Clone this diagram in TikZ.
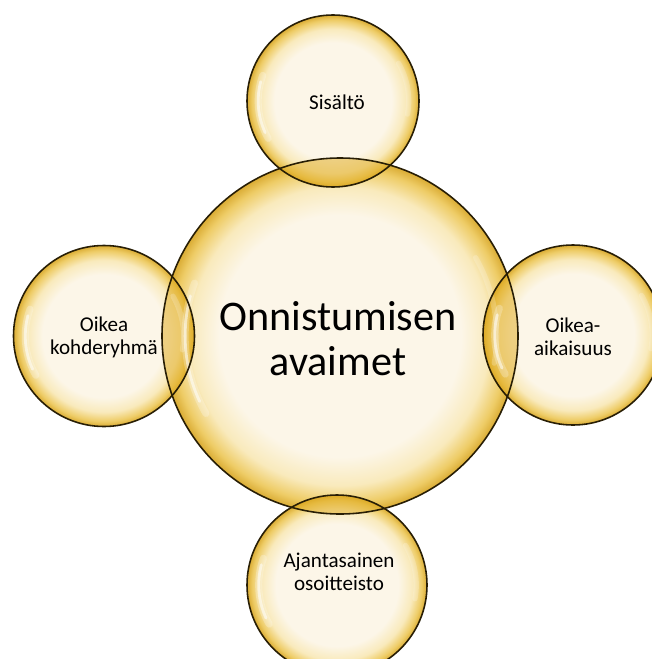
\documentclass[tikz,border=0pt]{standalone}
\usepackage{fontspec}
\setmainfont{Carlito}
\usepackage{tikz}

\definecolor{bubcream}{RGB}{252,246,232}
\definecolor{bubpale}{RGB}{249,234,188}
\definecolor{bubgold}{RGB}{238,204,102}
\definecolor{bubdeep}{RGB}{218,172,52}
\definecolor{bublens}{RGB}{224,170,28}
\definecolor{bubedge}{RGB}{40,30,5}
\pgfdeclareradialshading{bubble}{\pgfpoint{0bp}{0bp}}{color(0bp)=(bubcream); color(17bp)=(bubcream); color(21bp)=(bubpale); color(23.6bp)=(bubgold); color(25bp)=(bubdeep); color(50bp)=(bubdeep)}

\tikzset{
  bubble/.style={circle, inner sep=0pt, shading=bubble},
  rim/.style={draw=bubedge, line width=0.9pt},
  lens/.style={fill=bublens, fill opacity=0.5},
  glint/.style={white, line cap=round},
  small/.style={font=\fontsize{12}{13}\selectfont, align=center, text=black},
}

\begin{document}
\begin{tikzpicture}[x=0.02cm,y=-0.02cm]
  \useasboundingbox (0,0) rectangle (652,659);
  %BUBBLES
  \node[bubble, minimum size=7.12cm] (mid) at (340,336) {};
  \node[bubble, minimum size=3.44cm] (top) at (333,101) {};
  \node[bubble, minimum size=3.62cm] (left) at (104,336) {};
  \node[bubble, minimum size=3.6cm] (right) at (573,335) {};
  \node[bubble, minimum size=3.6cm] (bottom) at (337,585) {};
  %OVERLAPS
  \begin{scope}
    \clip (mid.center) circle[radius=178];
    \fill[lens] (top.center) circle[radius=86];
    \fill[lens] (left.center) circle[radius=90.5];
    \fill[lens] (right.center) circle[radius=90];
    \fill[lens] (bottom.center) circle[radius=90];
  \end{scope}
  %HIGHLIGHTS (soft streaks inside the rim)
  \foreach \b/\r in {mid/178,top/86,left/90.5,right/90,bottom/90}{
    \draw[glint, line width=4pt, opacity=0.25] (\b.center) ++(150:0.87*\r) arc[start angle=150, end angle=200, radius=0.87*\r];
    \draw[glint, line width=1.6pt, opacity=0.55] (\b.center) ++(155:0.87*\r) arc[start angle=155, end angle=195, radius=0.87*\r];
    \draw[glint, line width=3pt, opacity=0.2] (\b.center) ++(-30:0.88*\r) arc[start angle=-30, end angle=10, radius=0.88*\r];
  }
  %OUTLINES
  \draw[rim] (mid.center) circle[radius=178];
  \draw[rim] (top.center) circle[radius=86];
  \draw[rim] (left.center) circle[radius=90.5];
  \draw[rim] (right.center) circle[radius=90];
  \draw[rim] (bottom.center) circle[radius=90];
  %TEXTS
  \node[align=center, font=\fontsize{24}{25.5}\selectfont] (midtxt) at (338,339) {Onnistumisen\\avaimet};
  \node[small] (toptxt) at (337,102) {Sisältö};
  \node[small] (lefttxt) at (104,337) {Oikea\\kohderyhmä};
  \node[small] (righttxt) at (573,337) {Oikea-\\aikaisuus};
  \node[small] (bottomtxt) at (339,572) {Ajantasainen\\osoitteisto};
\end{tikzpicture}
\end{document}
